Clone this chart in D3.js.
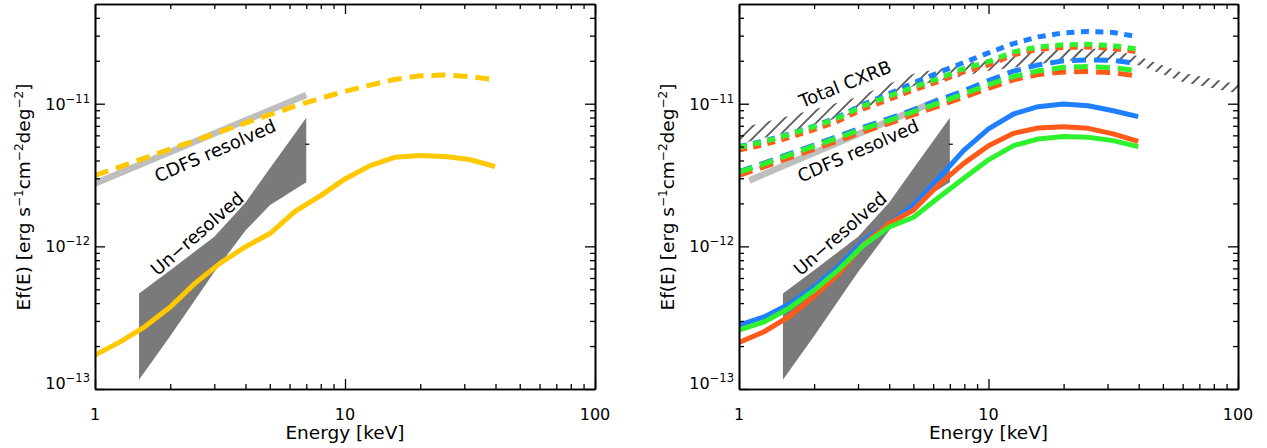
<!DOCTYPE html>
<html><head><meta charset="utf-8">
<script src="https://cdn.jsdelivr.net/npm/d3@7"></script>
<style>
body{margin:0;background:#fff}
svg{display:block}
text{font-family:"DejaVu Sans",sans-serif;fill:#000}
</style>
</head><body>
<svg id="chart" width="1267" height="448"></svg>
<script>
// ---------------- data ----------------
const energyGrid = [1, 1.26, 1.58, 2.0, 2.51, 3.16, 3.98, 5.01, 6.31, 7.94, 10, 12.6, 15.8, 20, 25.1, 31.6, 39.8];

// left panel
const yellowSolid  = [1.73e-13, 2.14e-13, 2.73e-13, 3.76e-13, 5.5e-13, 7.6e-13, 9.9e-13, 1.23e-12, 1.76e-12, 2.25e-12, 2.97e-12, 3.68e-12, 4.21e-12, 4.33e-12, 4.27e-12, 4.06e-12, 3.63e-12];
const yellowDashed = [3.14e-12, 3.61e-12, 4.16e-12, 4.80e-12, 5.51e-12, 6.34e-12, 7.3e-12, 8.4e-12, 9.6e-12, 1.09e-11, 1.22e-11, 1.35e-11, 1.48e-11, 1.57e-11, 1.59e-11, 1.55e-11, 1.47e-11];

// un-resolved band (both panels)
const bandEnergy = [1.5, 2, 3, 4, 5, 7];
const bandLow    = [1.16e-13, 2.35e-13, 6.6e-13, 1.29e-12, 1.94e-12, 2.82e-12];
const bandHigh   = [4.67e-13, 6.79e-13, 1.17e-12, 2.03e-12, 3.51e-12, 7.98e-12];

// CDFS resolved (grey line)
const cdfsLeftEnergy  = [1, 7];
const cdfsLeftValue   = [2.76e-12, 1.15e-11];
const cdfsRightEnergy = [1.1, 6.3];
const cdfsRightValue  = [2.9e-12, 1.06e-11];

// small black marker
const markEnergy = [7];
const markValue  = [5.2e-12];

// right panel models
const blueSolid    = [2.80e-13, 3.20e-13, 3.91e-13, 5.19e-13, 7.25e-13, 1.10e-12, 1.44e-12, 1.95e-12, 3.0e-12, 4.69e-12, 6.66e-12, 8.47e-12, 9.53e-12, 9.95e-12, 9.68e-12, 8.93e-12, 8.11e-12];
const orangeSolid  = [2.12e-13, 2.52e-13, 3.20e-13, 4.47e-13, 6.44e-13, 1.04e-12, 1.44e-12, 1.80e-12, 2.70e-12, 3.80e-12, 5.08e-12, 6.20e-12, 6.76e-12, 6.90e-12, 6.72e-12, 6.14e-12, 5.45e-12];
const greenSolid   = [2.59e-13, 2.95e-13, 3.67e-13, 4.92e-13, 6.87e-13, 1.02e-12, 1.36e-12, 1.60e-12, 2.20e-12, 2.99e-12, 4.04e-12, 5.08e-12, 5.66e-12, 5.90e-12, 5.81e-12, 5.51e-12, 5.00e-12];

const blueDashed   = [3.34e-12, 3.84e-12, 4.43e-12, 5.13e-12, 5.93e-12, 6.85e-12, 7.85e-12, 9.08e-12, 1.06e-11, 1.23e-11, 1.45e-11, 1.69e-11, 1.87e-11, 2.00e-11, 2.03e-11, 2.01e-11, 1.91e-11];
const orangeDashed = [3.14e-12, 3.60e-12, 4.16e-12, 4.81e-12, 5.51e-12, 6.37e-12, 7.25e-12, 8.38e-12, 9.61e-12, 1.11e-11, 1.28e-11, 1.47e-11, 1.60e-11, 1.67e-11, 1.68e-11, 1.65e-11, 1.56e-11];
const greenDashed  = [3.31e-12, 3.78e-12, 4.36e-12, 5.04e-12, 5.80e-12, 6.69e-12, 7.60e-12, 8.79e-12, 1.01e-11, 1.17e-11, 1.36e-11, 1.55e-11, 1.70e-11, 1.80e-11, 1.82e-11, 1.79e-11, 1.70e-11];

const blueDotted   = [5.00e-12, 5.47e-12, 6.12e-12, 6.96e-12, 8.11e-12, 9.93e-12, 1.17e-11, 1.40e-11, 1.65e-11, 1.94e-11, 2.27e-11, 2.64e-11, 2.94e-11, 3.14e-11, 3.21e-11, 3.16e-11, 2.94e-11];
const orangeDotted = [4.73e-12, 5.17e-12, 5.78e-12, 6.58e-12, 7.60e-12, 9.23e-12, 1.07e-11, 1.25e-11, 1.43e-11, 1.67e-11, 1.87e-11, 2.20e-11, 2.41e-11, 2.48e-11, 2.50e-11, 2.44e-11, 2.31e-11];
const greenDotted  = [4.95e-12, 5.42e-12, 6.07e-12, 6.90e-12, 7.98e-12, 9.68e-12, 1.13e-11, 1.31e-11, 1.50e-11, 1.76e-11, 1.97e-11, 2.31e-11, 2.50e-11, 2.59e-11, 2.61e-11, 2.55e-11, 2.41e-11];

// total CXRB hatched band
const cxrbEnergy = [1, 2, 3, 5, 10, 20, 30, 40, 60, 100];
const cxrbLow    = [5.2e-12, 7.1e-12, 8.8e-12, 1.33e-11, 1.70e-11, 2.0e-11, 2.02e-11, 1.86e-11, 1.42e-11, 1.18e-11];
const cxrbHigh   = [6.7e-12, 9.1e-12, 1.12e-11, 1.62e-11, 2.06e-11, 2.43e-11, 2.43e-11, 2.15e-11, 1.65e-11, 1.37e-11];

// axes
const xDomain = [1, 100];
const yDomain = [1e-13, 5e-11];
const xMajorTicks = [1, 10, 100];
const xTickLabels = ["1", "10", "100"];
const xMinorTicks = [2, 3, 4, 5, 6, 7, 8, 9, 20, 30, 40, 50, 60, 70, 80, 90];
const yMajorTicks = [1e-13, 1e-12, 1e-11];
const yTickExponents = ["\u221213", "\u221212", "\u221211"];
const yMinorTicks = [2e-13, 3e-13, 4e-13, 5e-13, 6e-13, 7e-13, 8e-13, 9e-13, 2e-12, 3e-12, 4e-12, 5e-12, 6e-12, 7e-12, 8e-12, 9e-12, 2e-11, 3e-11, 4e-11];

// annotations: text, energy, value, angle
const leftLabels = [
  {text: "CDFS resolved", e: 3.02, v: 4.69e-12, angle: -23.6},
  {text: "Un\u2212resolved", e: 2.56, v: 1.23e-12, angle: -41}
];
const rightLabels = [
  {text: "Total CXRB", e: 2.66, v: 1.38e-11, angle: -21.8},
  {text: "CDFS resolved", e: 3.0, v: 4.69e-12, angle: -23.6},
  {text: "Un\u2212resolved", e: 2.54, v: 1.23e-12, angle: -41}
];

// ---------------- drawing ----------------
const svg = d3.select("#chart");
const defs = svg.append("defs");
const pat = defs.append("pattern").attr("id", "hatch")
  .attr("patternUnits", "userSpaceOnUse").attr("width", 8.5).attr("height", 8.5)
  .attr("patternTransform", "rotate(45)");
pat.append("line").attr("x1", 1).attr("y1", 0).attr("x2", 1).attr("y2", 8.5)
  .attr("stroke", "#000").attr("stroke-width", 1.2);

const COLORS = {yellow: "#ffc800", blue: "#1f80ff", orange: "#ff5a1a", green: "#2ef22e",
  band: "#7a7a7a", cdfs: "#bebebe"};
const DASH = "14,8", DOT = "8,6.5";

function makePanel(left, right, isRight) {
  const top = 4, bottom = 389;
  const x = d3.scaleLog().domain(xDomain).range([left, right]);
  const y = d3.scaleLog().domain(yDomain).range([bottom, top]);
  const g = svg.append("g");
  const clipId = "clip" + (isRight ? "R" : "L");
  defs.append("clipPath").attr("id", clipId).append("rect")
    .attr("x", left).attr("y", top).attr("width", right - left).attr("height", bottom - top);
  const plot = g.append("g").attr("clip-path", `url(#${clipId})`);
  const zip = (es, vs) => es.map((e, i) => [e, vs[i]]);
  const line = d3.line().x(d => x(d[0])).y(d => y(d[1]));
  const area = d3.area().x(d => x(d[0])).y0(d => y(d[1])).y1(d => y(d[2]));

  if (isRight) {
    plot.append("path")
      .attr("d", area(cxrbEnergy.map((e, i) => [e, cxrbLow[i], cxrbHigh[i]])))
      .attr("fill", "url(#hatch)").attr("stroke", "none");
  }
  // un-resolved band
  plot.append("path")
    .attr("d", area(bandEnergy.map((e, i) => [e, bandLow[i], bandHigh[i]])))
    .attr("fill", COLORS.band);
  // CDFS line
  const ce = isRight ? cdfsRightEnergy : cdfsLeftEnergy;
  const cv = isRight ? cdfsRightValue : cdfsLeftValue;
  plot.append("path").attr("d", line(zip(ce, cv)))
    .attr("fill", "none").attr("stroke", COLORS.cdfs).attr("stroke-width", 6.5);
  // marker
  plot.selectAll(".mk").data(zip(markEnergy, markValue)).enter().append("line")
    .attr("x1", d => x(d[0]) - 1).attr("x2", d => x(d[0]) + 3)
    .attr("y1", d => y(d[1])).attr("y2", d => y(d[1]))
    .attr("stroke", "#000").attr("stroke-width", 1.2);

  const drawSeries = (vals, color, dash) => {
    plot.append("path").attr("d", line(zip(energyGrid, vals)))
      .attr("fill", "none").attr("stroke", color).attr("stroke-width", 5)
      .attr("stroke-dasharray", dash || null).attr("stroke-linejoin", "round");
  };
  if (!isRight) {
    drawSeries(yellowDashed, COLORS.yellow, DASH);
    drawSeries(yellowSolid, COLORS.yellow, null);
  } else {
    drawSeries(blueDotted, COLORS.blue, DOT);
    drawSeries(orangeDotted, COLORS.orange, DOT);
    drawSeries(greenDotted, COLORS.green, DOT);
    drawSeries(blueDashed, COLORS.blue, DASH);
    drawSeries(orangeDashed, COLORS.orange, DASH);
    drawSeries(greenDashed, COLORS.green, DASH);
    drawSeries(blueSolid, COLORS.blue, null);
    drawSeries(orangeSolid, COLORS.orange, null);
    drawSeries(greenSolid, COLORS.green, null);
  }

  // axes (frame + inward ticks)
  const ax = g.append("g").attr("class", "axes");
  const styleAxis = sel => {
    sel.selectAll("path.domain").attr("stroke", "#000").attr("stroke-width", 1.6);
    sel.selectAll(".tick line").attr("stroke", "#000").attr("stroke-width", 1.3);
    sel.selectAll(".tick text").remove();
  };
  const mk = (gen, scale, ticks, size, tr) => {
    ax.append("g").attr("transform", tr)
      .call(gen(scale).tickValues(ticks).tickSize(-size).tickSizeOuter(0).tickFormat(""))
      .call(styleAxis);
  };
  mk(d3.axisBottom, x, xMajorTicks, 10, `translate(0,${bottom})`);
  mk(d3.axisBottom, x, xMinorTicks, 5, `translate(0,${bottom})`);
  mk(d3.axisTop, x, xMajorTicks, 10, `translate(0,${top})`);
  mk(d3.axisTop, x, xMinorTicks, 5, `translate(0,${top})`);
  mk(d3.axisLeft, y, yMajorTicks, 10, `translate(${left},0)`);
  mk(d3.axisLeft, y, yMinorTicks, 5, `translate(${left},0)`);
  mk(d3.axisRight, y, yMajorTicks, 10, `translate(${right},0)`);
  mk(d3.axisRight, y, yMinorTicks, 5, `translate(${right},0)`);

  // x tick labels
  g.selectAll(".xl").data(xMajorTicks).enter().append("text")
    .attr("x", d => x(d)).attr("y", 420).attr("text-anchor", "middle")
    .attr("font-size", 16).text((d, i) => xTickLabels[i]);
  // y tick labels with superscripts
  yMajorTicks.forEach((t, i) => {
    const yy = y(t) + (i === 0 ? 0 : 6);
    const tx = g.append("text").attr("x", left - 5).attr("y", yy)
      .attr("text-anchor", "end").attr("font-size", 16);
    tx.append("tspan").text("10");
    tx.append("tspan").attr("dy", -7).attr("font-size", 11.5).text(yTickExponents[i]);
  });
  // axis titles
  g.append("text").attr("x", (left + right) / 2).attr("y", 439)
    .attr("text-anchor", "middle").attr("font-size", 18.5).text("Energy [keV]");
  const yt = g.append("text").attr("transform", `translate(${left - 65},197) rotate(-90)`)
    .attr("text-anchor", "middle").attr("font-size", 18.5);
  yt.append("tspan").text("Ef(E) [erg s");
  yt.append("tspan").attr("dy", -7).attr("font-size", 12).text("\u22121");
  yt.append("tspan").attr("dy", 7).text("cm");
  yt.append("tspan").attr("dy", -7).attr("font-size", 12).text("\u22122");
  yt.append("tspan").attr("dy", 7).text("deg");
  yt.append("tspan").attr("dy", -7).attr("font-size", 12).text("\u22122");
  yt.append("tspan").attr("dy", 7).text("]");

  // annotations
  (isRight ? rightLabels : leftLabels).forEach(L => {
    g.append("text")
      .attr("transform", `translate(${x(L.e)},${y(L.v)}) rotate(${L.angle})`)
      .attr("text-anchor", "middle").attr("dominant-baseline", "central")
      .attr("font-size", 18).text(L.text);
  });
}

makePanel(95, 595, false);
makePanel(739, 1238, true);
</script>
</body></html>
